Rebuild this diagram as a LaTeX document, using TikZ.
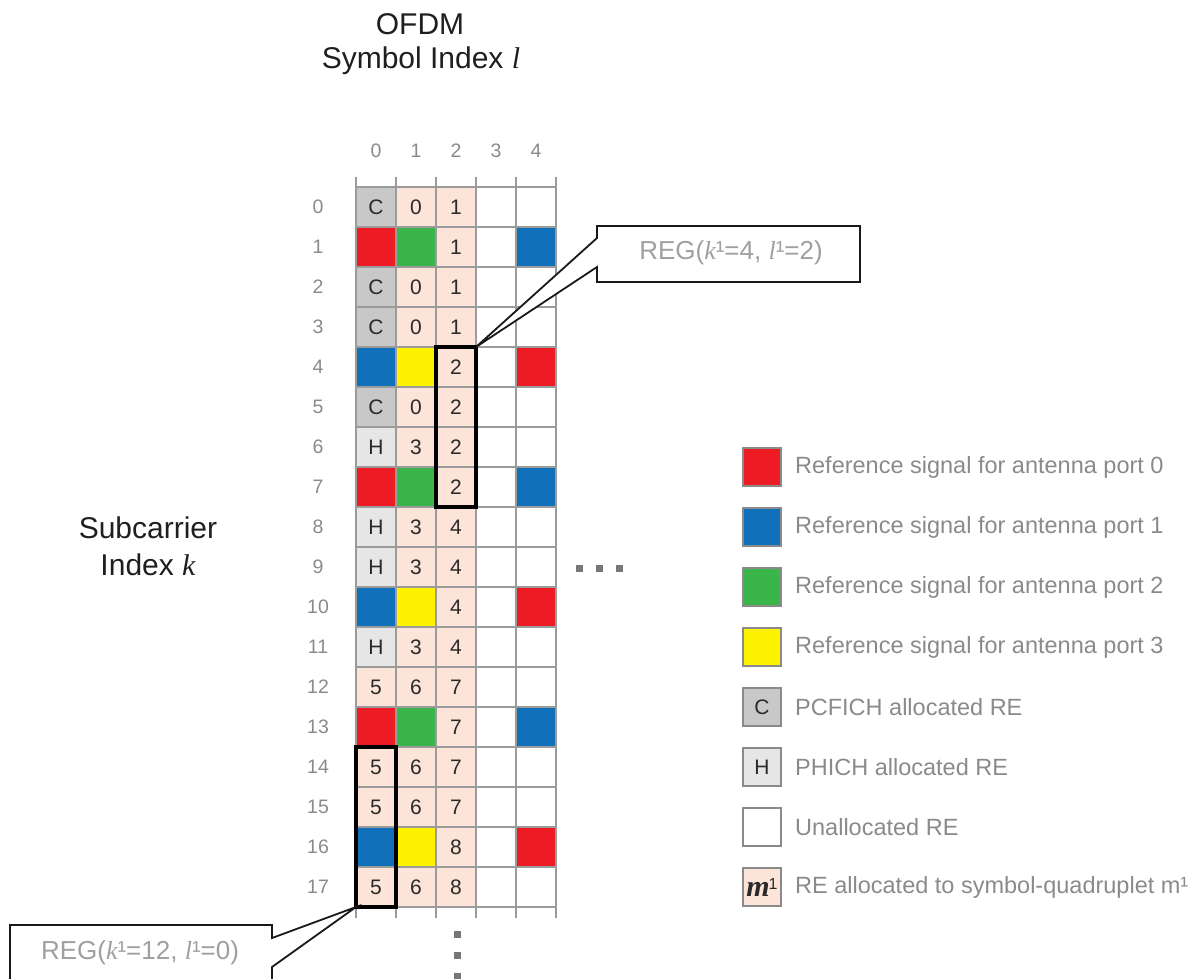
\documentclass[tikz,border=0pt]{standalone}
\usepackage{fontspec}
\setmainfont{Liberation Sans}
\newfontfamily\tnr{Liberation Serif}
\usetikzlibrary{calc}
\definecolor{rr}{HTML}{ED1C24}
\definecolor{bb}{HTML}{1170BA}
\definecolor{gg}{HTML}{39B54A}
\definecolor{yy}{HTML}{FFF200}
\definecolor{cg}{HTML}{C8C8C8}
\definecolor{hh}{HTML}{E6E6E6}
\definecolor{pk}{HTML}{FCE4D8}
\definecolor{wh}{HTML}{FFFFFF}
\definecolor{gridc}{HTML}{9B9B9B}
\definecolor{lblc}{HTML}{8A8A8A}
\definecolor{regc}{HTML}{A0A0A0}
\definecolor{celltxt}{HTML}{2A2A2A}
\definecolor{dotc}{HTML}{777777}
\begin{document}
\begin{tikzpicture}[x=1pt,y=-1pt,
  cell/.style={minimum width=40pt,minimum height=40pt,inner sep=0pt,outer sep=0pt,
    text=celltxt,font={\fontsize{21}{21}\selectfont}},
  gridline/.style={draw=gridc,line width=1.8pt},
  lbl/.style={text=lblc,font={\fontsize{19.5}{20}\selectfont},inner sep=0pt},
  titletext/.style={text=black!88,font={\fontsize{30}{34}\selectfont},inner sep=0pt},
  regtext/.style={text=regc,font={\fontsize{26}{28}\selectfont},inner sep=0pt},
  callout/.style={draw=black!90,line width=1.8pt,fill=white,line join=miter},
  regbox/.style={inner sep=0pt,outer sep=0pt},
  swatch/.style={draw=lblc,line width=2pt,minimum width=38pt,minimum height=38pt,
    inner sep=0pt,text=celltxt,font={\fontsize{21}{21}\selectfont}},
  legtext/.style={anchor=west,text=lblc,font={\fontsize{23.5}{26}\selectfont},inner sep=0pt},
  quadbox/.style={draw=black,line width=4.5pt}
]
\useasboundingbox (0,0) rectangle (1202,978);

% titles
\node[titletext] (t1) at (420,24) {OFDM};
\node[titletext] (t2) at (421,61) {Symbol Index {\tnr\itshape l}};
\node[titletext] (s1) at (148,528) {Subcarrier};
\node[titletext] (s2) at (148,565) {Index {\tnr\itshape k}};

% cells
\foreach \row/\items in {
 0/{cg/C,pk/0,pk/1,wh/{},wh/{}},
 1/{rr/{},gg/{},pk/1,wh/{},bb/{}},
 2/{cg/C,pk/0,pk/1,wh/{},wh/{}},
 3/{cg/C,pk/0,pk/1,wh/{},wh/{}},
 4/{bb/{},yy/{},pk/2,wh/{},rr/{}},
 5/{cg/C,pk/0,pk/2,wh/{},wh/{}},
 6/{hh/H,pk/3,pk/2,wh/{},wh/{}},
 7/{rr/{},gg/{},pk/2,wh/{},bb/{}},
 8/{hh/H,pk/3,pk/4,wh/{},wh/{}},
 9/{hh/H,pk/3,pk/4,wh/{},wh/{}},
 10/{bb/{},yy/{},pk/4,wh/{},rr/{}},
 11/{hh/H,pk/3,pk/4,wh/{},wh/{}},
 12/{pk/5,pk/6,pk/7,wh/{},wh/{}},
 13/{rr/{},gg/{},pk/7,wh/{},bb/{}},
 14/{pk/5,pk/6,pk/7,wh/{},wh/{}},
 15/{pk/5,pk/6,pk/7,wh/{},wh/{}},
 16/{bb/{},yy/{},pk/8,wh/{},rr/{}},
 17/{pk/5,pk/6,pk/8,wh/{},wh/{}}}{
  \foreach \cc/\tx [count=\col from 0] in \items {
    \node[cell,fill=\cc] (cell-\row-\col) at ({376+40*\col},{207+40*\row}) {\tx};
  }
}

% grid lines
\foreach \i in {0,...,5} \draw[gridline] ({356+40*\i},177) -- ({356+40*\i},918);
\foreach \j in {0,...,18} \draw[gridline] (356,{187+40*\j}) -- (556,{187+40*\j});

% labels
\foreach \r in {0,...,17} \node[lbl] (rl-\r) at (318,{207+40*\r}) {\r};
\foreach \c in {0,...,4} \node[lbl] (cl-\c) at ({376+40*\c},151) {\c};

% REG boxes
\draw[quadbox] (cell-4-2.north west) rectangle (cell-7-2.south east);
\draw[quadbox] (cell-14-0.north west) rectangle (cell-17-0.south east);

% callout 1
\node[regbox,minimum width=263pt,minimum height=56pt] (reg1) at (728.5,254) {};
\draw[callout] (cell-4-2.north east) -- ($(reg1.north west)+(0,12)$) -- (reg1.north west)
  -- (reg1.north east) -- (reg1.south east) -- (reg1.south west)
  -- ($(reg1.south west)+(0,-15)$) -- cycle;
\node[regtext] (reg1t) at (731,253) {REG({\tnr\itshape k}¹=4, {\tnr\itshape l}¹=2)};

% callout 2
\node[regbox,minimum width=262pt,minimum height=62pt] (reg2) at (141,956) {};
\draw[callout] (cell-17-0.south west) -- ($(reg2.north east)+(0,13)$) -- (reg2.north east)
  -- (reg2.north west) -- (reg2.south west) -- (reg2.south east)
  -- ($(reg2.north east)+(0,42)$) -- cycle;
\node[regtext] (reg2t) at (140,953) {REG({\tnr\itshape k}¹=12, {\tnr\itshape l}¹=0)};

% ellipsis dots
\foreach \x in {579,599,619} \fill[dotc] ({\x-3.5},564.5) rectangle +(7,7);
\foreach \y in {934,955,976} \fill[dotc] (453.5,{\y-3.5}) rectangle +(7,7);

% legend
\foreach \cc/\sw/\tx [count=\i from 0] in {
  rr/{}/Reference signal for antenna port 0,
  bb/{}/Reference signal for antenna port 1,
  gg/{}/Reference signal for antenna port 2,
  yy/{}/Reference signal for antenna port 3,
  cg/C/PCFICH allocated RE,
  hh/H/PHICH allocated RE,
  wh/{}/Unallocated RE,
  pk/{{\fontsize{30}{30}\selectfont\tnr\bfseries\itshape m}\kern-1pt{\fontsize{16}{16}\selectfont\raisebox{7pt}{1}}}/{RE allocated to symbol-quadruplet m¹}}{
  \node[swatch,fill=\cc] (leg-\i) at (762,{467+60*\i}) {\sw};
  \node[legtext] (legt-\i) at (795,{467+60*\i}) {\tx};
}
\end{tikzpicture}
\end{document}
